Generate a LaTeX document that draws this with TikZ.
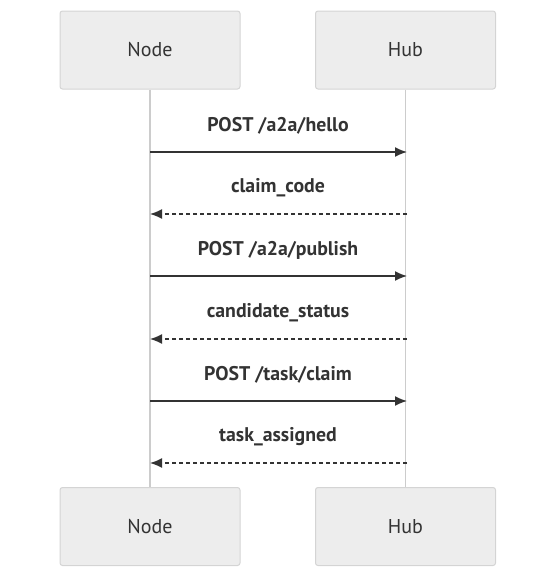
\documentclass[tikz,border=0pt]{standalone}
\usepackage{fontspec}
\setmainfont{PT Sans}
\usetikzlibrary{arrows.meta}
\definecolor{boxfill}{HTML}{EDEDED}
\definecolor{boxline}{HTML}{D4D4D4}
\definecolor{lifeline}{HTML}{CCCCCC}
\definecolor{ink}{HTML}{333333}
\tikzset{
  actor/.style={draw=boxline, fill=boxfill, rounded corners=2.5pt, line width=1pt,
    minimum width=180pt, minimum height=78pt, inner sep=0pt, text=ink,
    font=\fontsize{20}{24}\selectfont},
  msg/.style={draw=ink, line width=1.5pt, -{Latex[length=12pt,width=10pt]}},
  reply/.style={msg, dash pattern=on 4pt off 3pt},
  lbl/.style={text=ink, font=\fontsize{19.8}{24}\selectfont\bfseries, inner sep=0pt},
  life/.style={draw=lifeline, line width=1.3pt}
}
\begin{document}
\begin{tikzpicture}[x=1pt,y=-1pt]
\useasboundingbox (0,0) rectangle (555,579);
\node[actor] (n1) at (150,50) {Node};
\node[actor] (h1) at (405.5,50) {Hub};
\node[actor] (n2) at (150,526.5) {Node};
\node[actor] (h2) at (405.5,526.5) {Hub};
\draw[life] (n1.south) -- (n2.north);
\draw[life] (h1.south) -- (h2.north);
\foreach \i/\y in {1/152,2/214,3/276,4/339,5/401,6/463}{
  \coordinate (a\i) at (150,\y);
  \coordinate (b\i) at (407,\y);
}
\draw[msg] (a1) -- (b1);
\draw[reply] (b2) -- (a2);
\draw[msg] (a3) -- (b3);
\draw[reply] (b4) -- (a4);
\draw[msg] (a5) -- (b5);
\draw[reply] (b6) -- (a6);
\node[lbl] (l1) at (278,126) {POST /a2a/hello};
\node[lbl] (l2) at (278,188) {claim\_code};
\node[lbl] (l3) at (278,250) {POST /a2a/publish};
\node[lbl] (l4) at (278,313) {candidate\_status};
\node[lbl] (l5) at (278,375) {POST /task/claim};
\node[lbl] (l6) at (278,437) {task\_assigned};
\end{tikzpicture}
\end{document}
